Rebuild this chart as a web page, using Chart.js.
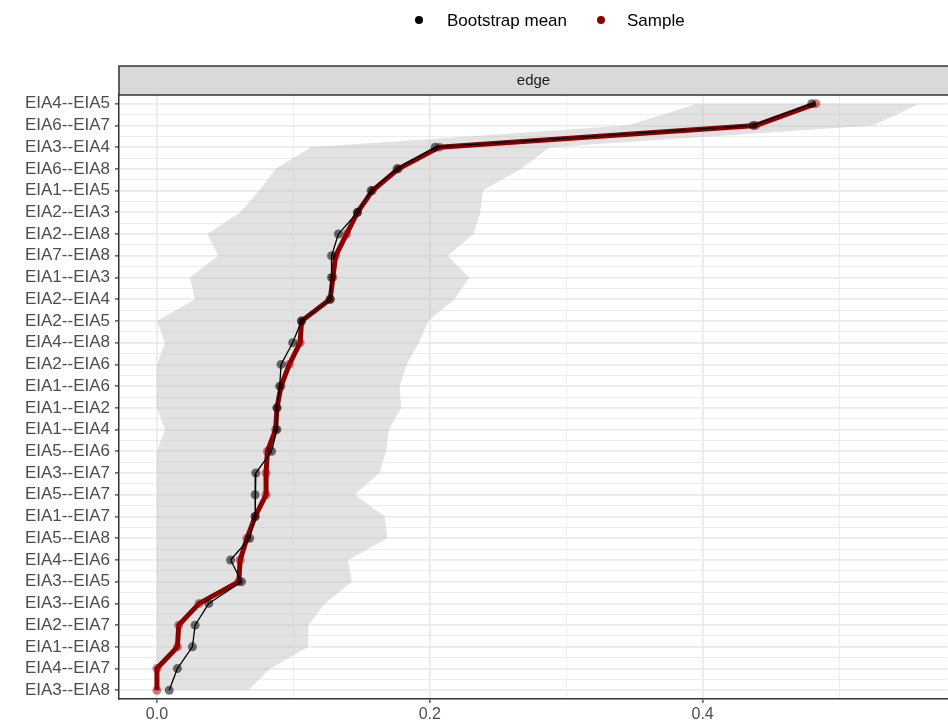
<!DOCTYPE html>
<html>
<head>
<meta charset="utf-8">
<script src="https://cdn.jsdelivr.net/npm/chart.js@4.4.1/dist/chart.umd.min.js"></script>
<style>
  html, body { margin: 0; padding: 0; background: #fff; overflow: hidden; }
  canvas { display: block; }
</style>
</head>
<body>
<canvas id="edgeChart" width="952" height="720"></canvas>
<script>
// edges, top to bottom
const edges = [
  'EIA4--EIA5', 'EIA6--EIA7', 'EIA3--EIA4', 'EIA6--EIA8', 'EIA1--EIA5',
  'EIA2--EIA3', 'EIA2--EIA8', 'EIA7--EIA8', 'EIA1--EIA3', 'EIA2--EIA4',
  'EIA2--EIA5', 'EIA4--EIA8', 'EIA2--EIA6', 'EIA1--EIA6', 'EIA1--EIA2',
  'EIA1--EIA4', 'EIA5--EIA6', 'EIA3--EIA7', 'EIA5--EIA7', 'EIA1--EIA7',
  'EIA5--EIA8', 'EIA4--EIA6', 'EIA3--EIA5', 'EIA3--EIA6', 'EIA2--EIA7',
  'EIA1--EIA8', 'EIA4--EIA7', 'EIA3--EIA8'
];

const sampleValues = [
  0.483, 0.439, 0.207, 0.177, 0.158, 0.147, 0.139, 0.131, 0.129, 0.127,
  0.106, 0.105, 0.097, 0.091, 0.088, 0.087, 0.081, 0.080, 0.080, 0.072,
  0.066, 0.061, 0.060, 0.031, 0.016, 0.015, 0.000, 0.000
];

const bootMean = [
  0.480, 0.437, 0.204, 0.176, 0.157, 0.147, 0.133, 0.128, 0.128, 0.127,
  0.106, 0.0995, 0.091, 0.090, 0.088, 0.088, 0.084, 0.0725, 0.072, 0.072,
  0.068, 0.054, 0.062, 0.038, 0.028, 0.026, 0.015, 0.009
];

const ciLower = [
  0.396, 0.345, 0.113, 0.087, 0.075, 0.061, 0.037, 0.045, 0.024, 0.028,
  0.000, 0.006, 0.000, 0.000, 0.000, 0.006, 0.000, 0.000, 0.000, 0.000,
  0.000, 0.000, 0.000, 0.000, 0.000, 0.000, 0.000, 0.000
];

const ciUpper = [
  0.559, 0.525, 0.288, 0.267, 0.239, 0.237, 0.232, 0.213, 0.229, 0.218,
  0.199, 0.192, 0.183, 0.178, 0.179, 0.170, 0.168, 0.163, 0.145, 0.167,
  0.169, 0.140, 0.143, 0.123, 0.111, 0.111, 0.083, 0.067
];

const xTicks = [0, 0.1, 0.2, 0.3, 0.4, 0.5];

const FONT = 'Liberation Sans, Arial, Helvetica, sans-serif';
const toPoints = arr => arr.map((v, i) => ({ x: v, y: i }));

const yTicks = [];
for (let i = 0; i <= (edges.length - 1) * 2; i++) yTicks.push(i / 2);

const isMajorX = v => Math.round(v * 10) % 2 === 0;

// legend on top and the grey "edge" strip
const decorations = {
  id: 'decorations',
  afterDraw(chart) {
    const ctx = chart.ctx;
    const area = chart.chartArea;
    const w = chart.width;
    ctx.save();

    // strip
    ctx.fillStyle = '#d9d9d9';
    ctx.fillRect(area.left, 66, w - area.left, area.top - 66);
    ctx.strokeStyle = '#333333';
    ctx.lineWidth = 1.5;
    ctx.strokeRect(area.left, 66, w - area.left + 2, area.top - 66);
    ctx.fillStyle = '#1a1a1a';
    ctx.font = '15px ' + FONT;
    ctx.textAlign = 'center';
    ctx.textBaseline = 'middle';
    ctx.fillText('edge', (area.left + 948) / 2, 81);

    // legend
    const items = [
      { label: 'Bootstrap mean', color: '#000000', dot: 419, text: 447 },
      { label: 'Sample', color: '#8b0000', dot: 601, text: 627 }
    ];
    ctx.font = '17px ' + FONT;
    ctx.textAlign = 'left';
    items.forEach(it => {
      ctx.fillStyle = it.color;
      ctx.beginPath();
      ctx.arc(it.dot, 20, 4, 0, Math.PI * 2);
      ctx.fill();
      ctx.fillStyle = '#000000';
      ctx.fillText(it.label, it.text, 21);
    });
    ctx.restore();
  }
};

new Chart(document.getElementById('edgeChart'), {
  type: 'line',
  data: {
    datasets: [
      {
        label: 'CI lower',
        data: toPoints(ciLower),
        borderWidth: 0,
        pointRadius: 0,
        fill: false,
        order: 3
      },
      {
        label: 'CI upper',
        data: toPoints(ciUpper),
        borderWidth: 0,
        pointRadius: 0,
        backgroundColor: 'rgba(190,190,190,0.45)',
        fill: '-1',
        order: 3
      },
      {
        label: 'Sample',
        data: toPoints(sampleValues),
        borderColor: '#8b0000',
        borderWidth: 5,
        pointRadius: 4.5,
        pointBorderWidth: 0,
        pointBackgroundColor: 'rgba(160,0,0,0.5)',
        fill: false,
        order: 2
      },
      {
        label: 'Bootstrap mean',
        data: toPoints(bootMean),
        borderColor: '#000000',
        borderWidth: 1.3,
        pointRadius: 4.5,
        pointBorderWidth: 0,
        pointBackgroundColor: 'rgba(0,0,0,0.55)',
        fill: false,
        order: 1
      }
    ]
  },
  options: {
    responsive: false,
    animation: false,
    indexAxis: 'y',
    layout: { padding: { top: 95, left: 0, right: 0, bottom: 0 } },
    elements: { line: { tension: 0 } },
    plugins: {
      legend: { display: false },
      tooltip: { enabled: false }
    },
    scales: {
      x: {
        type: 'linear',
        min: -0.0278,
        max: 0.5795,
        afterBuildTicks: s => { s.ticks = xTicks.map(v => ({ value: v })); },
        afterFit: s => { s.height = 21; },
        ticks: {
          autoSkip: false,
          maxRotation: 0,
          padding: 2,
          color: '#4d4d4d',
          font: { family: FONT, size: 16 },
          callback: v => isMajorX(v) ? v.toFixed(1) : ''
        },
        grid: {
          color: '#ebebeb',
          lineWidth: c => (c.tick && isMajorX(c.tick.value)) ? 1.8 : 0.9,
          tickLength: 4,
          tickWidth: 1.2,
          tickColor: c => (c.tick && isMajorX(c.tick.value)) ? '#333333' : 'rgba(0,0,0,0)'
        },
        border: { color: '#333333', width: 1.5 }
      },
      y: {
        type: 'linear',
        reverse: true,
        min: -0.4,
        max: 27.4,
        afterBuildTicks: s => { s.ticks = yTicks.map(v => ({ value: v })); },
        afterFit: s => { s.width = 119; },
        ticks: {
          autoSkip: false,
          padding: 5,
          color: '#4d4d4d',
          font: { family: FONT, size: 17 },
          callback: v => Number.isInteger(v) ? edges[v] : ''
        },
        grid: {
          color: '#ebebeb',
          lineWidth: c => (c.tick && Number.isInteger(c.tick.value)) ? 1.8 : 0.9,
          tickLength: 4,
          tickWidth: 1.2,
          tickColor: c => (c.tick && Number.isInteger(c.tick.value)) ? '#333333' : 'rgba(0,0,0,0)'
        },
        border: { color: '#333333', width: 1.5 }
      }
    }
  },
  plugins: [decorations]
});
</script>
</body>
</html>
